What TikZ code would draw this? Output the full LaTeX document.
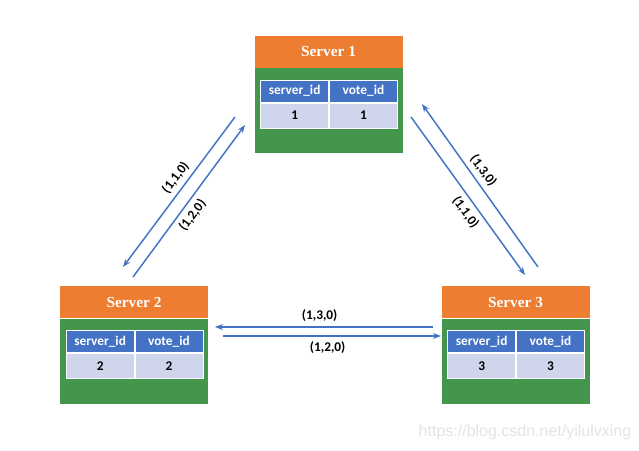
\documentclass[tikz,border=0pt]{standalone}
\usepackage{fontspec}
\setmainfont{Carlito}
\newfontfamily\timesfont{Liberation Serif}
\newfontfamily\arialfont{Liberation Sans}
\usetikzlibrary{arrows.meta,positioning}
\definecolor{hdorange}{RGB}{237,125,49}
\definecolor{bdgreen}{RGB}{67,150,75}
\definecolor{cellblue}{RGB}{68,114,196}
\definecolor{cellgray}{RGB}{207,213,234}
\definecolor{arrblue}{RGB}{68,114,196}
\tikzset{
  head/.style={fill=hdorange, minimum width=111pt, minimum height=24pt, inner sep=0pt, text=white, font=\timesfont\bfseries\fontsize{11.5}{13}\selectfont},
  body/.style={fill=bdgreen, minimum width=111pt, minimum height=63.75pt, inner sep=0pt},
  hcell/.style={fill=cellblue, draw=white, line width=0.6pt, minimum width=51pt, minimum height=16.5pt, inner sep=0pt, text=white, font=\bfseries\fontsize{10}{12}\selectfont},
  dcell/.style={fill=cellgray, draw=white, line width=0.6pt, minimum width=51pt, minimum height=18.75pt, inner sep=0pt, text=black, font=\bfseries\fontsize{10}{12}\selectfont},
  msg/.style={draw=arrblue, line width=1.1pt, -{Stealth[length=6pt,width=4.5pt]}},
  lbl/.style={font=\bfseries\fontsize{10}{12}\selectfont, inner sep=3.5pt}
}
\begin{document}
\begin{tikzpicture}[x=0.75pt,y=0.75pt,yscale=-1,xscale=1]
\useasboundingbox (0,0) rectangle (639,450);
% servers
\foreach \n/\x/\y in {1/328.5/51.5, 2/134/302, 3/515.5/302} {
  \node[head] (s\n) at (\x,\y) {Server \n};
  \node[body, below=0pt of s\n] (s\n body) {};
  \node[hcell, anchor=north west] (s\n hsid) at ([shift={(6,12)}]s\n body.north west) {server\_id};
  \node[hcell, right=0pt of s\n hsid] (s\n hvid) {vote\_id};
  \node[dcell, below=0pt of s\n hsid] (s\n dsid) {\n};
  \node[dcell, below=0pt of s\n hvid] (s\n dvid) {\n};
}
% message end points
\coordinate (a1s) at (235,117);
\coordinate (a1e) at (123,267);
\coordinate (a2s) at (133,277);
\coordinate (a2e) at (245,125);
\coordinate (b1s) at (538,267);
\coordinate (b1e) at (422,104);
\coordinate (b2s) at (411,117);
\coordinate (b2e) at (525,275);
\coordinate (c1s) at (433,327);
\coordinate (c1e) at (215,327);
\coordinate (c2s) at (223,336);
\coordinate (c2e) at (441,336);
% messages
\draw[msg] (a1s) -- node[lbl, pos=0.45, rotate=53, anchor=south] (m110a) {(1,1,0)} (a1e);
\draw[msg] (a2s) -- node[lbl, pos=0.45, rotate=53, anchor=north] (m120a) {(1,2,0)} (a2e);
\draw[msg] (b1s) -- node[lbl, pos=0.55, rotate=-54, anchor=south] (m130b) {(1,3,0)} (b1e);
\draw[msg] (b2s) -- node[lbl, pos=0.56, rotate=-54, anchor=north] (m110b) {(1,1,0)} (b2e);
\draw[msg] (c1s) -- node[lbl, pos=0.52, anchor=south] (m130c) {(1,3,0)} (c1e);
\draw[msg] (c2s) -- node[lbl, pos=0.48, anchor=north] (m120c) {(1,2,0)} (c2e);
% watermark
\node[text=gray!22, font=\arialfont\fontsize{12}{14}\selectfont] (wmark) at (525,432) {https://blog.csdn.net/yilulvxing};
\end{tikzpicture}
\end{document}
